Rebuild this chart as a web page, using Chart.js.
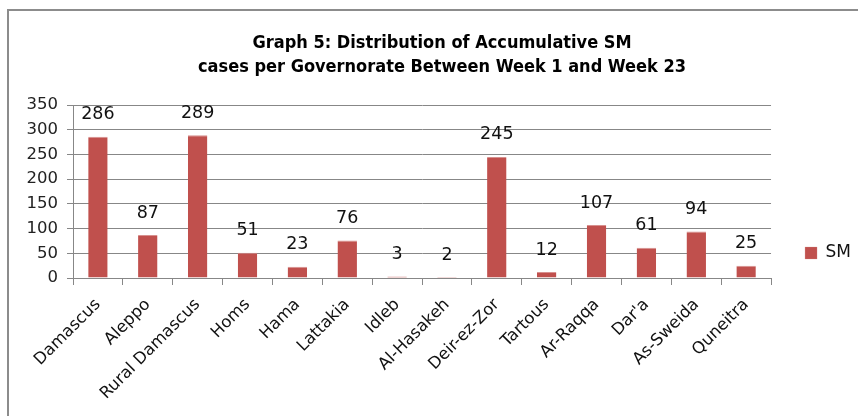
<!DOCTYPE html>
<html><head><meta charset="utf-8">
<script src="https://cdn.jsdelivr.net/npm/chart.js@4/dist/chart.umd.min.js"></script>
<style>
html,body{margin:0;padding:0;background:#fff;overflow:hidden;width:858px;height:416px;}
#frame{position:absolute;left:7px;top:9px;width:900px;height:440px;border:2px solid #8c8c8c;box-sizing:border-box;}
#wrap{position:absolute;left:0;top:0;width:884px;height:416px;}
</style></head><body>
<div id="frame"></div>
<div id="wrap"><canvas id="c" width="884" height="416"></canvas></div>
<script>
const categories = ["Damascus","Aleppo","Rural Damascus","Homs","Hama","Lattakia","Idleb","Al-Hasakeh","Deir-ez-Zor","Tartous","Ar-Raqqa","Dar'a","As-Sweida","Quneitra"];
const smValues = [286,87,289,51,23,76,3,2,245,12,107,61,94,25];
const yTicks = [0,50,100,150,200,250,300,350];
const titleLines = ["Graph 5: Distribution of Accumulative SM","cases per Governorate Between Week 1 and Week 23"];
const seriesLabel = "SM";

const FONT = "'DejaVu Sans', sans-serif";
Chart.defaults.font.family = FONT;
Chart.defaults.color = '#222';

const valueLabels = {
  id: 'valueLabels',
  afterDatasetsDraw(chart) {
    const ctx = chart.ctx;
    const meta = chart.getDatasetMeta(0);
    const data = chart.data.datasets[0].data;
    ctx.save();
    ctx.font = "17.5px " + FONT;
    ctx.fillStyle = '#111';
    ctx.textAlign = 'center';
    ctx.textBaseline = 'middle';
    meta.data.forEach((bar, i) => {
      ctx.fillText(String(data[i]), bar.x, bar.y - 22);
    });
    ctx.restore();
  }
};

const legendShift = {
  id: 'legendShift',
  afterLayout(chart) {
    const l = chart.legend;
    if (l) { l.top += 45; l.bottom += 45; }
  }
};

new Chart(document.getElementById('c'), {
  type: 'bar',
  data: {
    labels: categories,
    datasets: [{
      label: seriesLabel,
      data: smValues,
      backgroundColor: '#C0504D',
      borderColor: '#D7908E',
      borderWidth: { top: 1, left: 0, right: 0, bottom: 0 },
      borderSkipped: 'bottom',
      barPercentage: 0.39,
      categoryPercentage: 1.0
    }]
  },
  options: {
    responsive: false,
    animation: false,
    devicePixelRatio: 1,
    layout: { padding: { left: 23, right: 23, top: 0, bottom: 0 } },
    plugins: {
      title: {
        display: true,
        text: titleLines,
        color: '#000',
        font: { family: "'Liberation Sans Narrow', 'DejaVu Sans Condensed', sans-serif", size: 18, weight: 'bold', lineHeight: 24/18 },
        padding: { top: 31, bottom: 26 }
      },
      legend: {
        position: 'right',
        labels: { boxWidth: 12, boxHeight: 12, padding: 34, color: '#111', font: { size: 17 } }
      },
      tooltip: { enabled: false }
    },
    scales: {
      x: {
        grid: { display: true, drawOnChartArea: false, drawTicks: true, tickLength: 7, color: '#878787', offset: true },
        border: { display: true, color: '#878787' },
        ticks: { minRotation: 45, maxRotation: 45, autoSkip: false, color: '#111', font: { size: 16.5 }, padding: 10 },
        afterFit(s) { s.height = 138; }
      },
      y: {
        min: 0, max: 350,
        afterBuildTicks(s) { s.ticks = yTicks.map(v => ({ value: v })); },
        grid: { color: '#878787', tickLength: 6 },
        border: { display: true, color: '#878787' },
        ticks: { color: '#222', font: { size: 16.5 }, padding: 9 },
        afterFit(s) { s.width = 50; }
      }
    }
  },
  plugins: [valueLabels, legendShift]
});
</script>
</body></html>
